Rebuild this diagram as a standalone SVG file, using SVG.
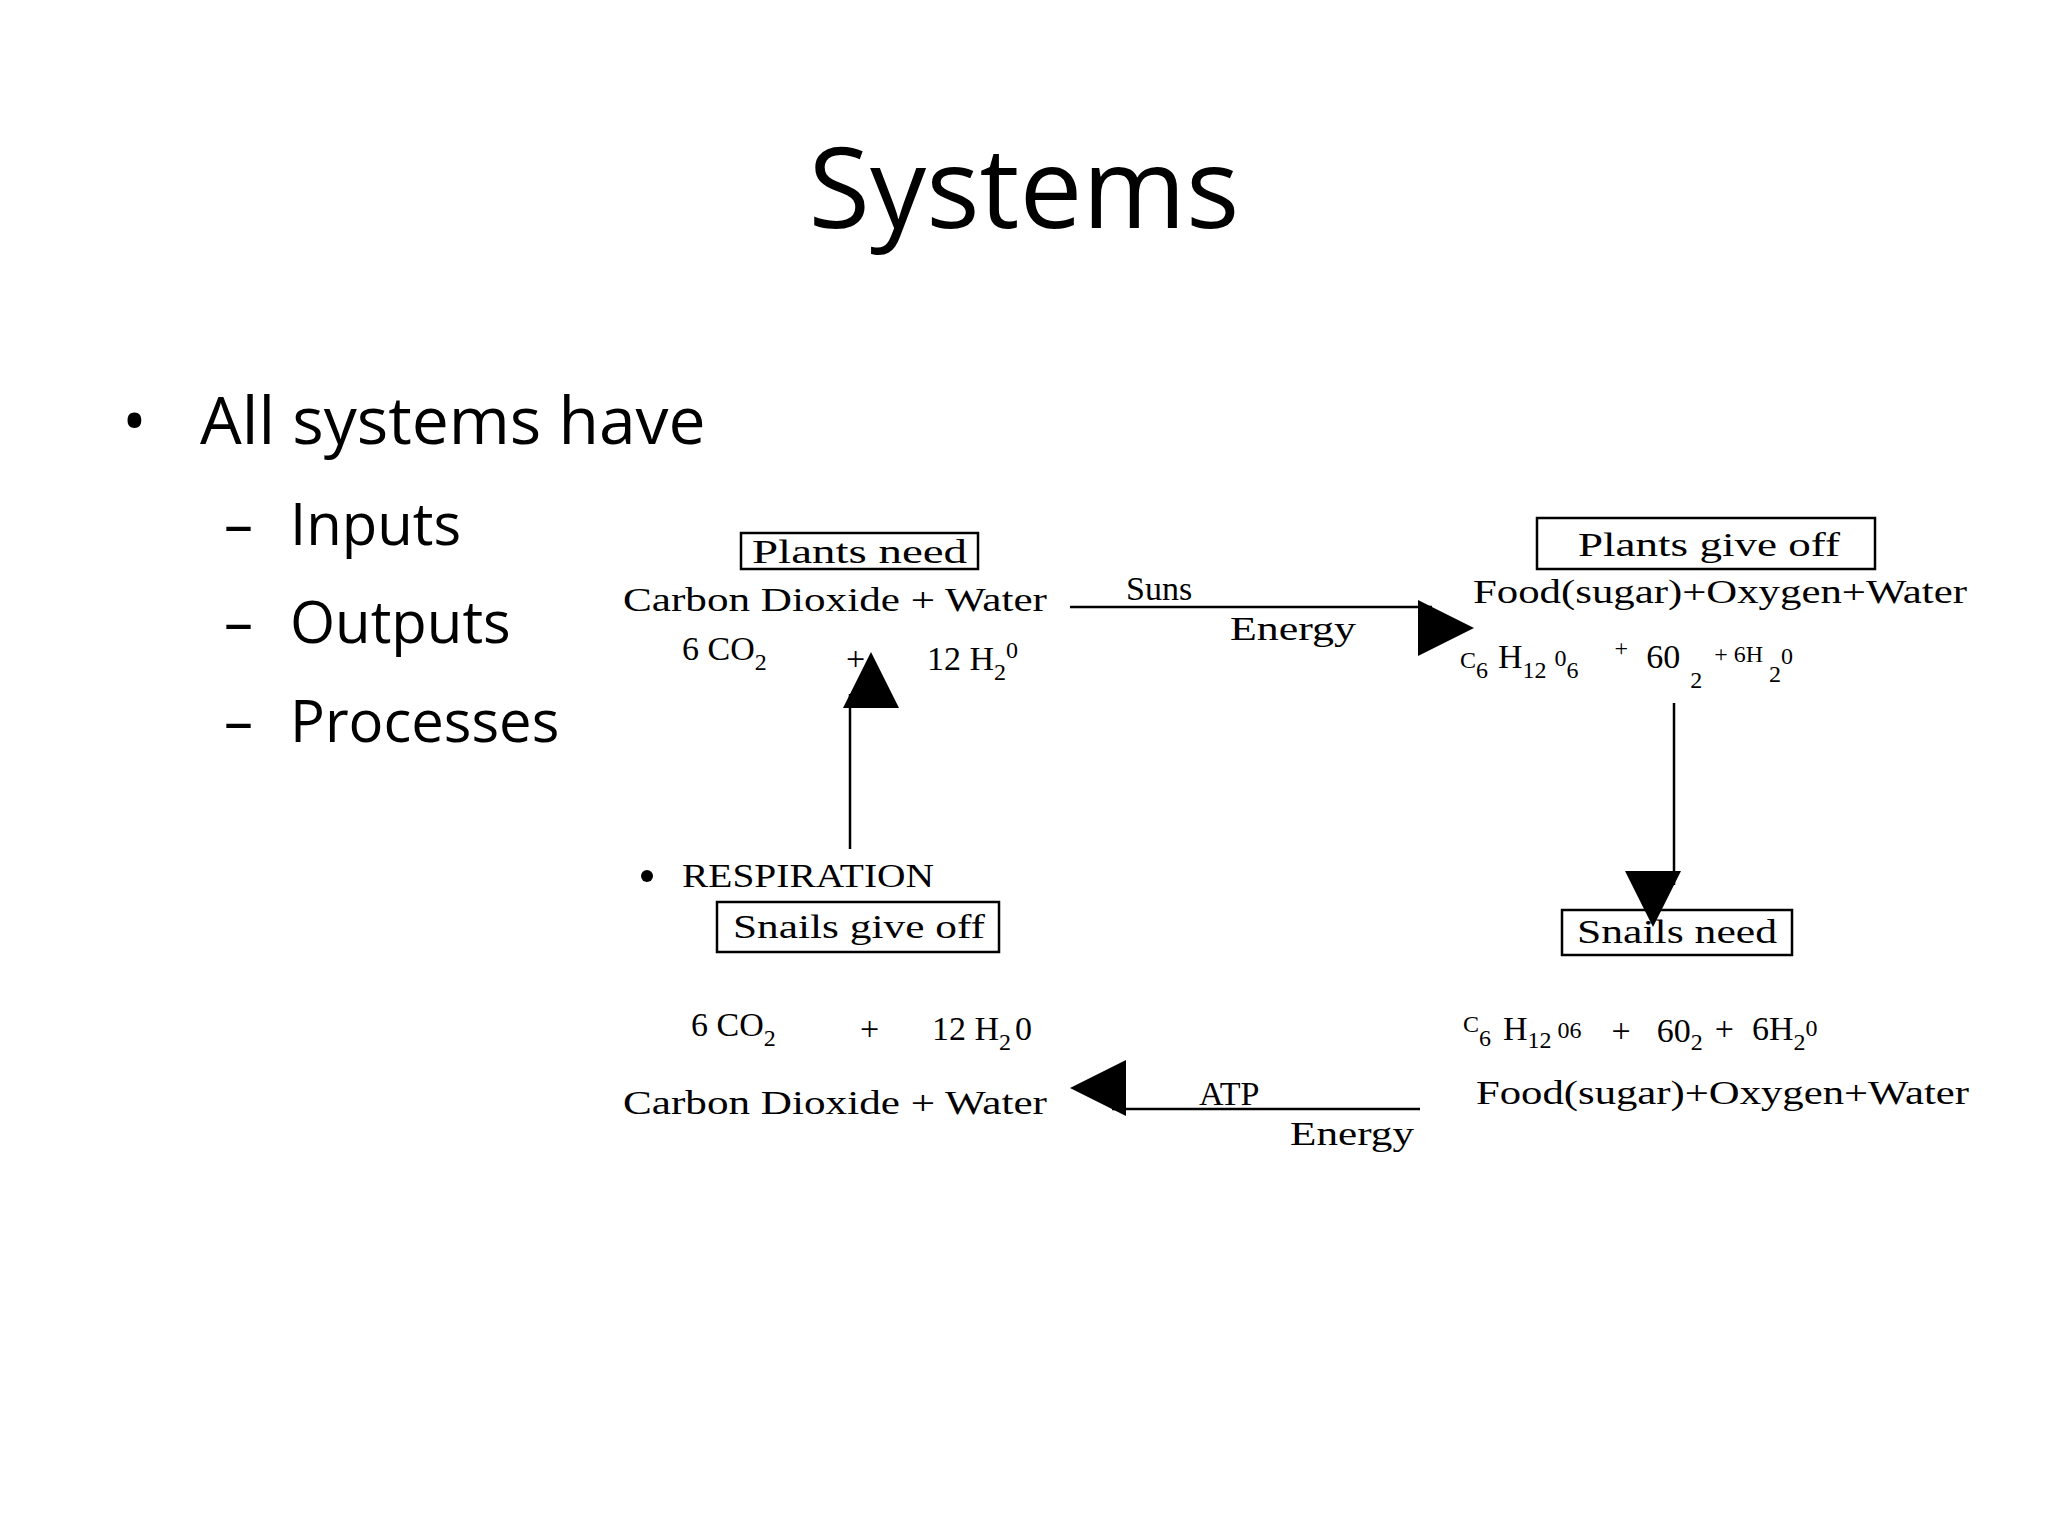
<svg xmlns="http://www.w3.org/2000/svg" width="2048" height="1536" viewBox="0 0 2048 1536">
<style>
.h{font-family:"Open Sans","Noto Sans",sans-serif;fill:#000}
.d{font-family:"Liberation Serif",serif;font-size:34px;fill:#000}
.s{font-family:"Liberation Serif",serif;font-size:24px;fill:#000}
.b{fill:none;stroke:#000;stroke-width:2.5}
.l{stroke:#000;stroke-width:2.5;fill:none}
</style>
<defs>
<marker id="ah" viewBox="0 0 10 10" refX="10" refY="5" markerWidth="14" markerHeight="14" markerUnits="userSpaceOnUse" orient="auto" style="overflow:visible">
<path d="M0,0 L10,5 L0,10 Z" fill="#000" transform="scale(4)"/>
</marker>
</defs>
<rect width="2048" height="1536" fill="#fff"/>
<text class="h" x="1024" y="228" font-size="112" text-anchor="middle">Systems</text>
<text class="h" x="122" y="444" font-size="66">•</text>
<text class="h" x="200" y="444" font-size="66">All systems have</text>
<text class="h" x="224" y="545" font-size="58">–</text><text class="h" x="290" y="545" font-size="58">Inputs</text>
<text class="h" x="224" y="643" font-size="58">–</text><text class="h" x="290" y="643" font-size="58">Outputs</text>
<text class="h" x="224" y="742" font-size="58">–</text><text class="h" x="290" y="742" font-size="58">Processes</text>

<g id="plants-need">
<rect class="b" x="741" y="533" width="237" height="36"/>
<text class="d" x="752" y="563" textLength="215" lengthAdjust="spacingAndGlyphs">Plants need</text>
<text class="d" x="623" y="611" textLength="424" lengthAdjust="spacingAndGlyphs">Carbon Dioxide + Water</text>
<text class="d" x="682" y="660">6 CO<tspan class="s" dy="10">2</tspan></text>
<text class="d" x="846" y="670" font-size="26">+</text>
<text class="d" x="927" y="670">12 H<tspan class="s" dy="10">2</tspan><tspan class="s" dy="-22">0</tspan></text>
</g>
<g id="plants-give-off">
<rect class="b" x="1537" y="518" width="338" height="51"/>
<text class="d" x="1578" y="556" textLength="262" lengthAdjust="spacingAndGlyphs">Plants give off</text>
<text class="d" x="1473" y="603" textLength="494" lengthAdjust="spacingAndGlyphs">Food(sugar)+Oxygen+Water</text>
<text class="d" x="1460" y="668"><tspan class="s">C</tspan><tspan class="s" dy="10">6</tspan><tspan dx="10" dy="-10">H</tspan><tspan class="s" dy="10">12</tspan><tspan class="s" dx="8" dy="-12">0</tspan><tspan class="s" dy="12">6</tspan><tspan class="s" dx="36" dy="-22">+</tspan><tspan dx="18" dy="12">60</tspan><tspan class="s" dx="10" dy="20">2</tspan><tspan class="s" dx="12" dy="-26">+ 6H</tspan><tspan class="s" dx="6" dy="20">2</tspan><tspan class="s" dy="-18">0</tspan></text>
</g>
<g id="snails-need">
<rect class="b" x="1562" y="910" width="230" height="45"/>
<text class="d" x="1577" y="943" textLength="200" lengthAdjust="spacingAndGlyphs">Snails need</text>
<text class="d" x="1463" y="1040"><tspan class="s" dy="-8">C</tspan><tspan class="s" dy="14">6</tspan><tspan dx="12" dy="-6">H</tspan><tspan class="s" dy="8">12</tspan><tspan class="s" dx="6" dy="-10">0</tspan><tspan class="s">6</tspan><tspan dx="30" dy="4">+</tspan><tspan dx="26">60</tspan><tspan class="s" dy="8">2</tspan><tspan dx="12" dy="-10">+</tspan><tspan dx="18">6H</tspan><tspan class="s" dy="10">2</tspan><tspan class="s" dy="-14">0</tspan></text>
<text class="d" x="1476" y="1104" textLength="493" lengthAdjust="spacingAndGlyphs">Food(sugar)+Oxygen+Water</text>
</g>
<g id="snails-give-off">
<text class="d" x="682" y="887" textLength="252" lengthAdjust="spacingAndGlyphs">RESPIRATION</text>
<circle cx="647" cy="876" r="6" fill="#000"/>
<rect class="b" x="717" y="902" width="282" height="50"/>
<text class="d" x="733" y="938" textLength="252" lengthAdjust="spacingAndGlyphs">Snails give off</text>
<text class="d" x="691" y="1036">6 CO<tspan class="s" dy="10">2</tspan></text>
<text class="d" x="860" y="1040" font-size="26">+</text>
<text class="d" x="932" y="1040">12 H<tspan class="s" dy="10">2</tspan><tspan dx="4" dy="-10">0</tspan></text>
<text class="d" x="623" y="1114" textLength="424" lengthAdjust="spacingAndGlyphs">Carbon Dioxide + Water</text>
</g>
<g id="connectors">
<line class="l" x1="1070" y1="607" x2="1432" y2="607" marker-end="url(#ah)"/>
<text class="d" x="1126" y="600">Suns</text>
<text class="d" x="1230" y="640" textLength="126" lengthAdjust="spacingAndGlyphs">Energy</text>
<line class="l" x1="1674" y1="703" x2="1674" y2="885" marker-end="url(#ah)"/>
<line class="l" x1="1420" y1="1109" x2="1112" y2="1109" marker-end="url(#ah)"/>
<text class="d" x="1199" y="1105">ATP</text>
<text class="d" x="1290" y="1145" textLength="124" lengthAdjust="spacingAndGlyphs">Energy</text>
<line class="l" x1="850" y1="849" x2="850" y2="694" marker-end="url(#ah)"/>
</g>
</svg>
